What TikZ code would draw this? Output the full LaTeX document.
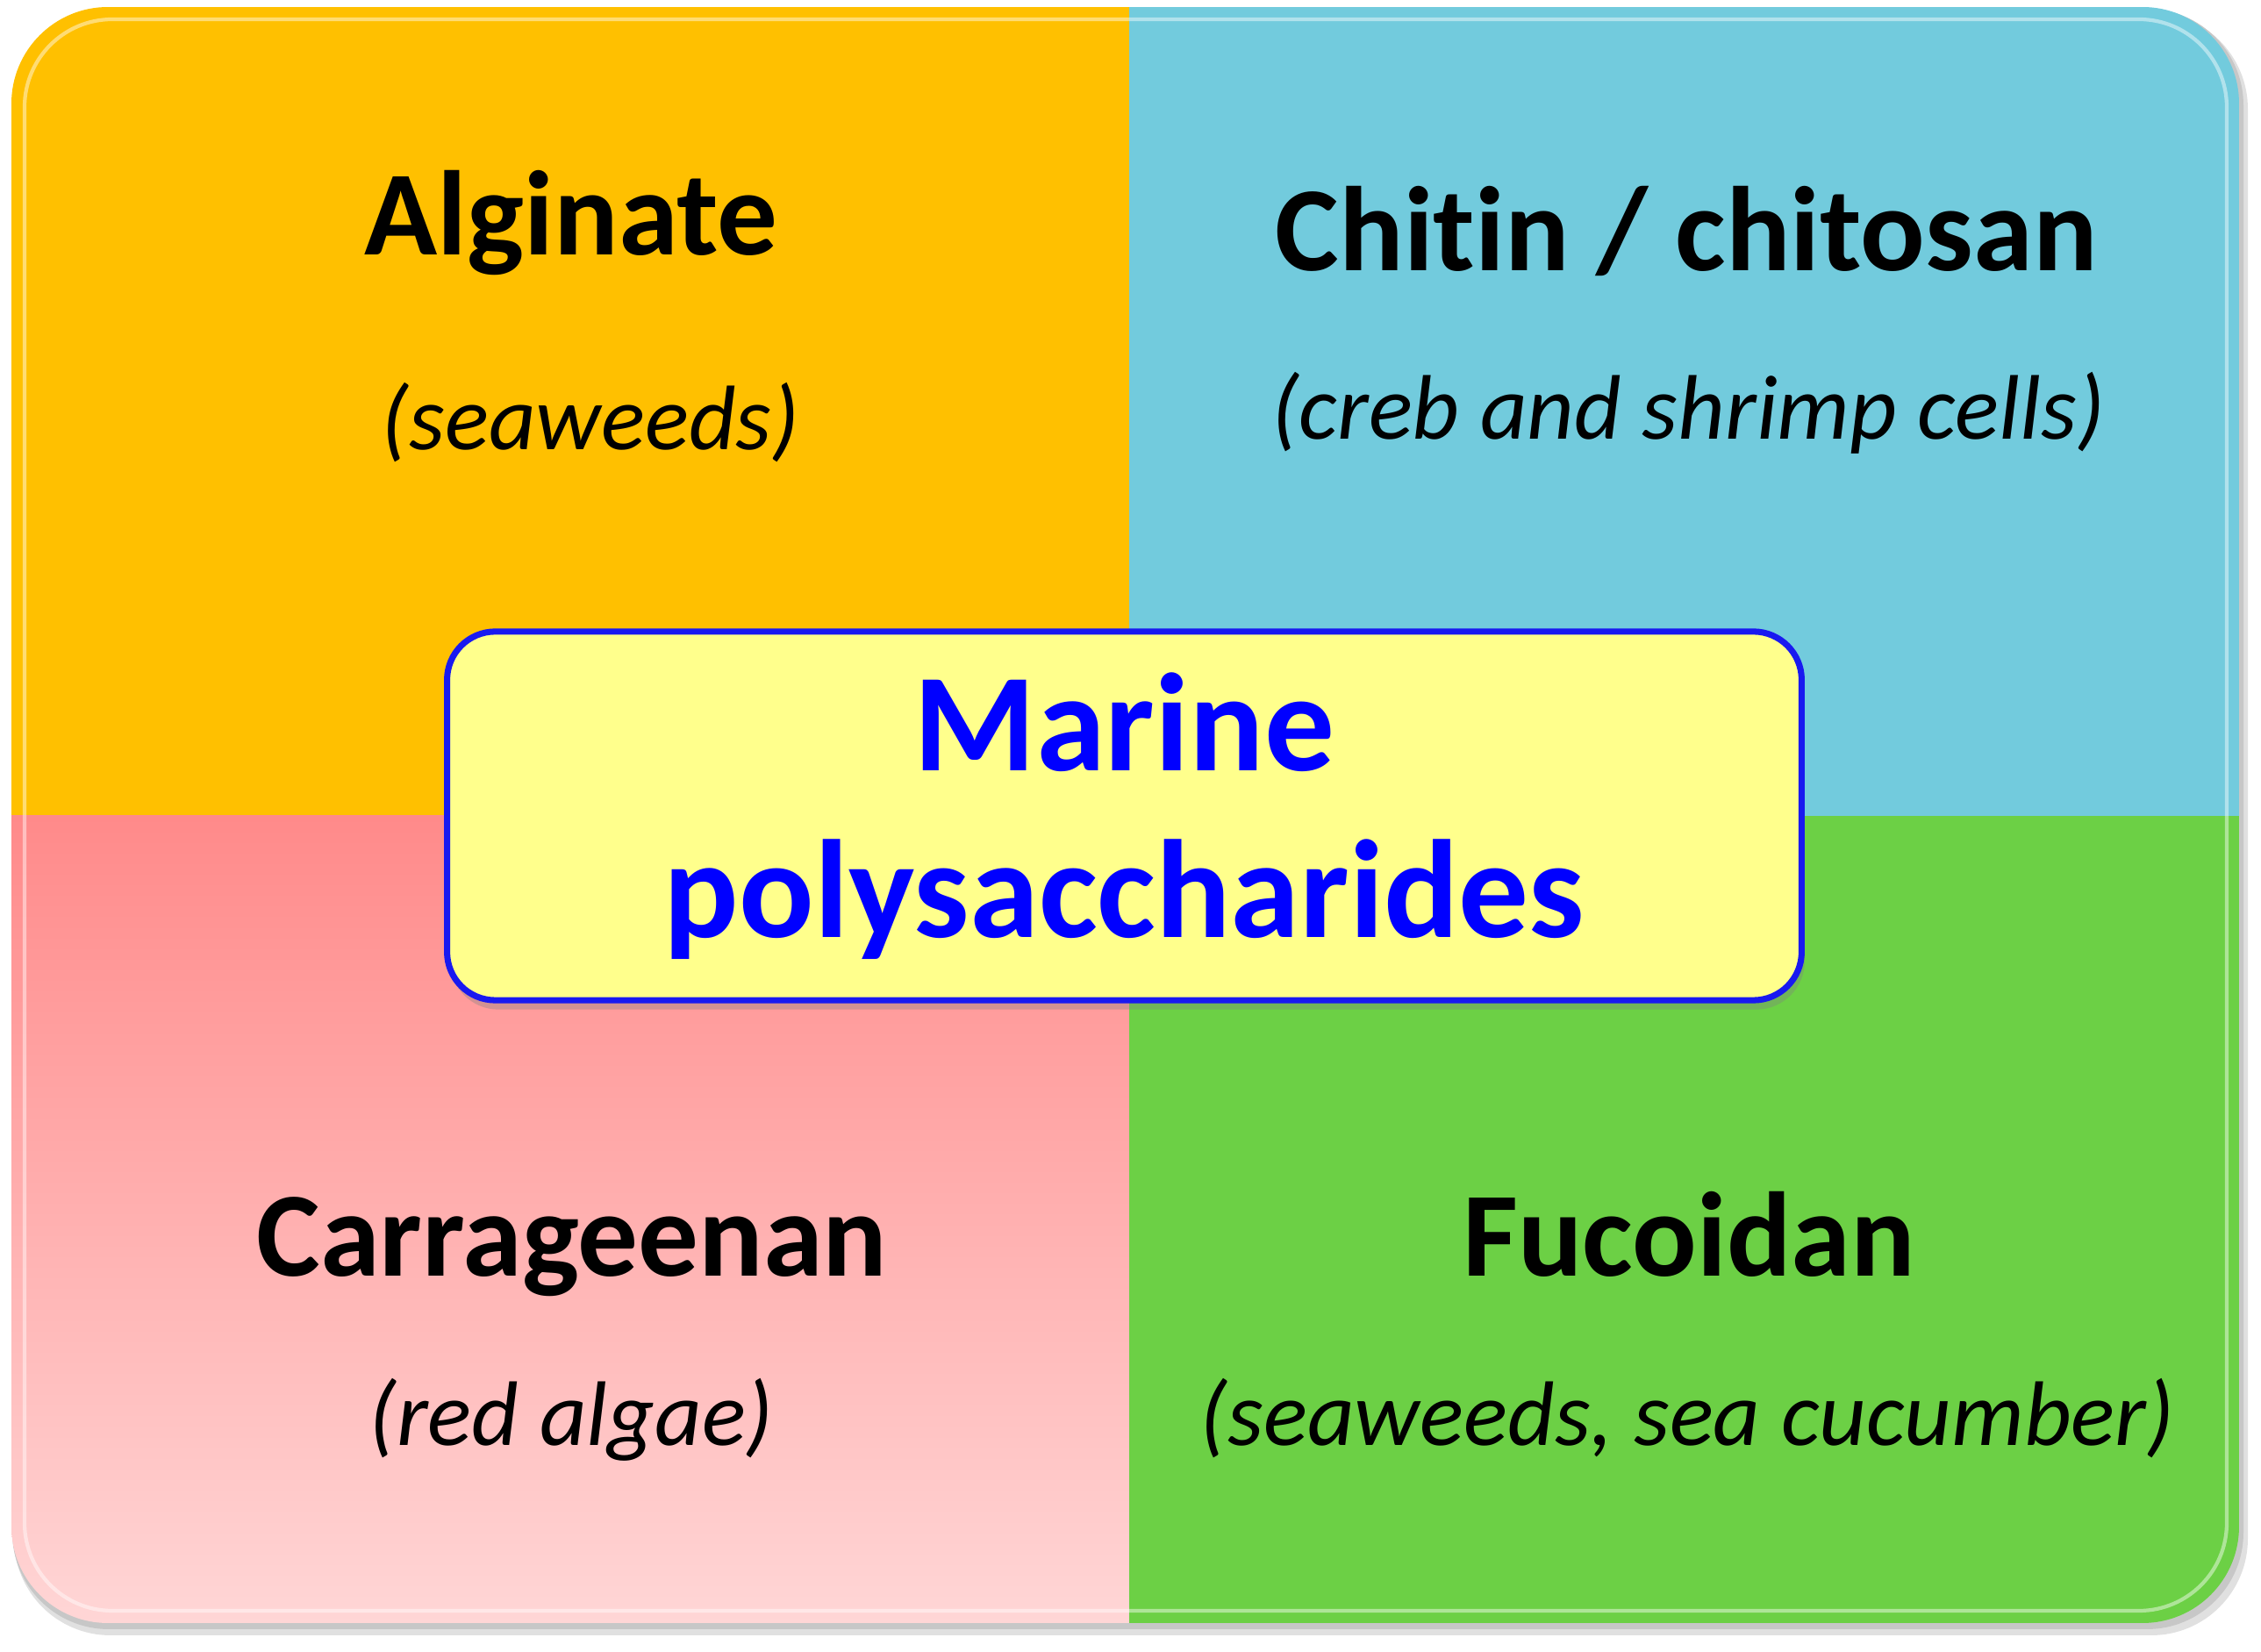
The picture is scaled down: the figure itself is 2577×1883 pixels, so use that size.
\documentclass[tikz,border=0pt]{standalone}
\usepackage{fontspec}
\setmainfont{Carlito}[Ligatures=NoCommon]
\usepackage{tikz}
\usetikzlibrary{shadows}
\definecolor{algcol}{RGB}{255,192,0}
\definecolor{chicol}{RGB}{114,203,221}
\definecolor{fuccol}{RGB}{108,208,69}
\definecolor{cartop}{RGB}{255,138,138}
\definecolor{carbot}{RGB}{255,214,214}
\definecolor{midfill}{RGB}{255,255,140}
\definecolor{midline}{RGB}{25,25,240}

\begin{document}
\begin{tikzpicture}[x=0.01cm,y=-0.01cm,
  title/.style={anchor=base,font=\fontsize{39}{47}\selectfont\bfseries},
  source/.style={anchor=base,font=\fontsize{29.7}{35}\selectfont\itshape}]
  \useasboundingbox (0,0) rectangle (2577,1883);

  % soft shadow under the four quarters
  \fill[black!12,rounded corners=1.1cm] (16,14) rectangle (2562,1864);
  \fill[black!22,rounded corners=1.1cm] (14,10) rectangle (2557,1857);

  \begin{scope}
    \clip[rounded corners=1.1cm] (13,8) rectangle (2552,1850);
    \fill[algcol] (13,8) rectangle (1287,930);
    \fill[chicol] (1287,8) rectangle (2552,930);
    \shade[top color=cartop,bottom color=carbot] (13,930) rectangle (1287,1850);
    \fill[fuccol] (1287,930) rectangle (2552,1850);
  \end{scope}
  \draw[white,opacity=.45,line width=1.2pt,rounded corners=1cm] (28,22) rectangle (2538,1836);

  \node (A) at (651,291) [title] {Alginate};
  \node (As) at (673,513) [source] {(seaweeds)};
  \node (C) at (1922,309) [title] {Chitin / chitosan};
  \node (Cs) at (1924,501) [source] {(creb and shrimp cells)};
  \node (K) at (652,1455) [title] {Carrageenan};
  \node (Ks) at (651,1648) [source] {(red algae)};
  \node (F) at (1925,1455) [title] {Fucoidan};
  \node (Fs) at (1923,1648) [source] {(seaweeds, sea cucumber)};

  \node (M) at (1281.5,930) [draw=midline,line width=2pt,fill=midfill,
    rounded corners=0.55cm,minimum width=15.43cm,minimum height=4.2cm,
    drop shadow={shadow xshift=1pt,shadow yshift=-3pt,opacity=.35},
    align=center,text=blue,font=\fontsize{45.3}{54}\selectfont\bfseries]
    {Marine\\polysaccharides};

\end{tikzpicture}
\end{document}
